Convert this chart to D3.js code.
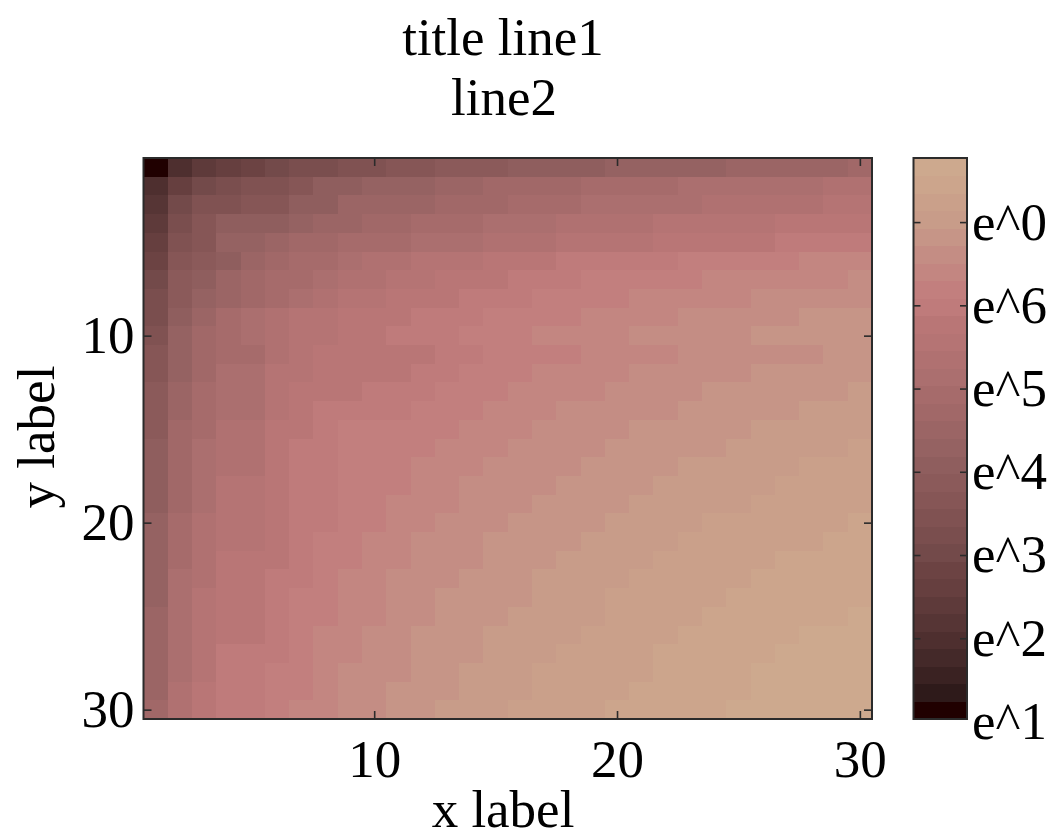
<!DOCTYPE html>
<html>
<head>
<meta charset="utf-8">
<script src="https://cdn.jsdelivr.net/npm/d3@7"></script>
<style>
  body { margin: 0; background: #fff; }
  svg { filter: blur(0.6px); }
  text { font-family: "Liberation Serif", serif; font-size: 53px; fill: #000; }
  .domain { display: none; }
</style>
</head>
<body>
<div id="chart"></div>
<script>
// colour levels, bottom of the colour bar first
var palette = ["#200000","#2e1a1a","#3a2222","#442929","#4e2f2f","#563535","#5e3a3a","#663f3f",
  "#6c4343","#734a4a","#7a4e4e","#805252","#865656","#8b5a5a","#8f5e5e","#956262",
  "#9b6565","#a16868","#a66b6b","#ab6f6f","#b07171","#b57474","#b97676","#bf7b7b",
  "#c27f7e","#c38681","#c48d84","#c69587","#c89c89","#caa08a","#cca58c","#cda98e"];

// colour level of each cell, row 1 at the top
var levels = [
  [0,4,6,7,8,9,10,10,11,11,12,12,13,13,13,14,14,14,14,15,15,15,15,15,16,16,16,16,16,17],
  [4,7,9,10,11,11,12,14,14,15,15,15,16,16,17,17,17,17,18,18,18,18,19,19,19,19,19,19,20,20],
  [5,9,11,11,12,12,14,14,16,16,16,16,17,17,17,18,18,18,19,19,19,19,19,20,20,20,20,20,21,21],
  [6,10,12,14,14,14,15,16,16,17,17,18,18,18,19,19,19,20,20,20,20,21,21,21,21,21,22,22,22,22],
  [7,11,12,15,15,16,17,17,18,18,18,19,19,19,20,20,20,21,21,21,21,22,22,22,22,22,23,23,23,23],
  [8,12,13,14,16,17,18,18,19,20,20,21,21,21,22,22,22,23,23,23,23,23,24,24,24,24,24,25,25,25],
  [9,13,14,16,17,18,18,19,20,20,21,21,22,22,22,23,23,23,24,24,24,24,24,25,25,25,25,25,25,26],
  [10,13,15,16,17,18,19,20,21,21,22,22,22,23,23,23,24,24,24,24,25,25,25,25,25,26,26,26,26,26],
  [10,14,16,18,19,20,21,21,22,22,22,23,23,23,24,24,24,24,25,25,25,25,26,26,26,26,26,27,27,27],
  [11,15,17,18,19,20,21,21,22,22,23,23,23,24,24,24,25,25,25,25,26,26,26,26,26,27,27,27,27,27],
  [12,15,17,18,18,20,21,22,22,22,22,22,23,23,24,24,24,24,25,25,25,25,26,26,26,26,26,26,27,27],
  [12,15,17,19,19,21,21,22,22,22,22,23,23,24,24,24,25,25,25,25,26,26,26,26,26,27,27,27,27,27],
  [13,16,18,19,19,21,22,22,22,23,23,23,24,24,24,25,25,25,25,26,26,26,26,27,27,27,27,27,27,28],
  [13,16,18,19,19,21,22,23,23,23,23,24,24,24,25,25,25,26,26,26,26,26,27,27,27,27,27,28,28,28],
  [13,17,18,20,20,22,22,23,24,24,24,24,24,25,25,25,26,26,26,26,27,27,27,27,27,28,28,28,28,28],
  [14,17,19,20,20,22,23,23,24,24,24,24,25,25,25,26,26,26,26,27,27,27,27,27,28,28,28,28,28,29],
  [14,17,19,20,20,22,23,23,24,24,24,25,25,25,26,26,26,26,27,27,27,27,28,28,28,28,28,29,29,29],
  [14,17,19,21,21,22,23,23,24,24,24,25,25,26,26,26,26,27,27,27,27,28,28,28,28,28,29,29,29,29],
  [14,17,19,21,21,22,23,23,24,24,25,25,25,26,26,26,27,27,27,27,28,28,28,28,28,29,29,29,29,29],
  [15,18,20,21,21,22,23,23,24,24,25,25,26,26,26,27,27,27,27,28,28,28,28,29,29,29,29,29,29,30],
  [15,18,20,21,21,22,23,24,24,25,25,26,26,26,27,27,27,27,28,28,28,28,29,29,29,29,29,29,30,30],
  [15,18,20,22,22,22,23,24,24,25,25,26,26,26,27,27,27,28,28,28,28,29,29,29,29,29,30,30,30,30],
  [15,19,20,22,22,23,23,24,25,25,26,26,26,27,27,27,28,28,28,28,29,29,29,29,29,30,30,30,30,30],
  [15,19,21,22,22,23,24,24,25,25,26,26,27,27,27,27,28,28,28,29,29,29,29,29,30,30,30,30,30,30],
  [16,19,21,22,22,23,24,24,25,25,26,26,27,27,27,28,28,28,28,29,29,29,29,30,30,30,30,30,30,31],
  [16,19,21,22,22,23,24,25,25,26,26,27,27,27,28,28,28,28,29,29,29,29,30,30,30,30,30,31,31,31],
  [16,19,21,23,23,23,24,25,25,26,26,27,27,27,28,28,28,29,29,29,29,30,30,30,30,30,31,31,31,31],
  [16,19,21,23,23,24,24,25,26,26,26,27,27,28,28,28,29,29,29,29,29,30,30,30,30,31,31,31,31,31],
  [16,20,22,23,23,24,24,25,26,26,27,27,27,28,28,28,29,29,29,29,30,30,30,30,30,31,31,31,31,31],
  [17,20,22,23,23,24,25,25,26,26,27,27,28,28,28,29,29,29,29,30,30,30,30,30,31,31,31,31,31,31]
];

var axisTicks = [10, 20, 30];
var barExponents = [1, 2, 3, 4, 5, 6, 7];
var barLabels = ["e^1", "e^2", "e^3", "e^4", "e^5", "e^6", "e^0"];

var svg = d3.select("#chart").append("svg")
  .attr("width", 1054)
  .attr("height", 836);

var plotLeft = 143.5, plotRight = 872, plotTop = 158, plotBottom = 719;
var barLeft = 913.5, barRight = 967;

var cols = d3.range(1, 31);
var x = d3.scaleBand().domain(cols).range([plotLeft, plotRight]);
var y = d3.scaleBand().domain(cols).range([plotTop, plotBottom]);
var xTick = d3.scaleLinear().domain([0.5, 30.5]).range([plotLeft, plotRight]);
var yTick = d3.scaleLinear().domain([0.5, 30.5]).range([plotTop, plotBottom]);

// heat map cells
svg.append("g").selectAll("g")
  .data(levels)
  .enter().append("g")
  .attr("transform", function(d, i) { return "translate(0," + y(i + 1) + ")"; })
  .selectAll("rect")
  .data(function(d) { return d; })
  .enter().append("rect")
  .attr("x", function(d, i) { return x(i + 1); })
  .attr("width", x.bandwidth() + 0.5)
  .attr("height", y.bandwidth() + 0.5)
  .attr("shape-rendering", "crispEdges")
  .attr("fill", function(d) { return palette[d]; });

svg.append("rect")
  .attr("x", plotLeft).attr("y", plotTop)
  .attr("width", plotRight - plotLeft).attr("height", plotBottom - plotTop)
  .attr("fill", "none").attr("stroke", "#2b2b2b").attr("stroke-width", 2);

// ticks point inwards on all four sides
svg.append("g").attr("transform", "translate(0," + plotBottom + ")")
  .call(d3.axisBottom(xTick).tickValues(axisTicks).tickSizeInner(-8).tickPadding(20));
svg.append("g").attr("transform", "translate(0," + plotTop + ")")
  .call(d3.axisTop(xTick).tickValues(axisTicks).tickSizeInner(-8).tickFormat(""));
svg.append("g").attr("transform", "translate(" + plotLeft + ",0)")
  .call(d3.axisLeft(yTick).tickValues(axisTicks).tickSizeInner(-8).tickPadding(9));
svg.append("g").attr("transform", "translate(" + plotRight + ",0)")
  .call(d3.axisRight(yTick).tickValues(axisTicks).tickSizeInner(-8).tickFormat(""));

// colour bar
var bar = d3.scaleBand().domain(d3.range(palette.length)).range([plotBottom, plotTop]);
svg.append("g").selectAll("rect")
  .data(palette)
  .enter().append("rect")
  .attr("x", barLeft)
  .attr("y", function(d, i) { return bar(i); })
  .attr("width", barRight - barLeft)
  .attr("height", bar.bandwidth() + 0.5)
  .attr("shape-rendering", "crispEdges")
  .attr("fill", function(d) { return d; });

svg.append("rect")
  .attr("x", barLeft).attr("y", plotTop)
  .attr("width", barRight - barLeft).attr("height", plotBottom - plotTop)
  .attr("fill", "none").attr("stroke", "#2b2b2b").attr("stroke-width", 2);

var barScale = d3.scaleLinear().domain([1.03, 7.77]).range([plotBottom, plotTop]);
var barAxis = svg.append("g").attr("transform", "translate(" + barRight + ",0)")
  .call(d3.axisRight(barScale).tickValues(barExponents).tickSizeInner(-7).tickPadding(5)
    .tickFormat(function(d, i) { return barLabels[i]; }));
// e^1 sits just below the bar, so it has a label but no tick mark
barAxis.selectAll(".tick").filter(function(d) { return d === 1; }).select("line").remove();
svg.append("g").attr("transform", "translate(" + barLeft + ",0)")
  .call(d3.axisLeft(barScale).tickValues(barExponents.slice(1)).tickSizeInner(-7).tickFormat(""));

svg.selectAll(".tick line").attr("stroke", "#2b2b2b").attr("stroke-width", 1.6);
svg.selectAll("g text").attr("font-size", null).attr("font-family", null).attr("fill", null);

// titles and labels
svg.append("text").attr("x", 503).attr("y", 55).attr("text-anchor", "middle").text("title line1");
svg.append("text").attr("x", 504).attr("y", 115).attr("text-anchor", "middle").text("line2");
svg.append("text").attr("x", 503).attr("y", 827).attr("text-anchor", "middle").text("x label");
svg.append("text").attr("transform", "translate(54,437) rotate(-90)")
  .attr("text-anchor", "middle").text("y label");
</script>
</body>
</html>
